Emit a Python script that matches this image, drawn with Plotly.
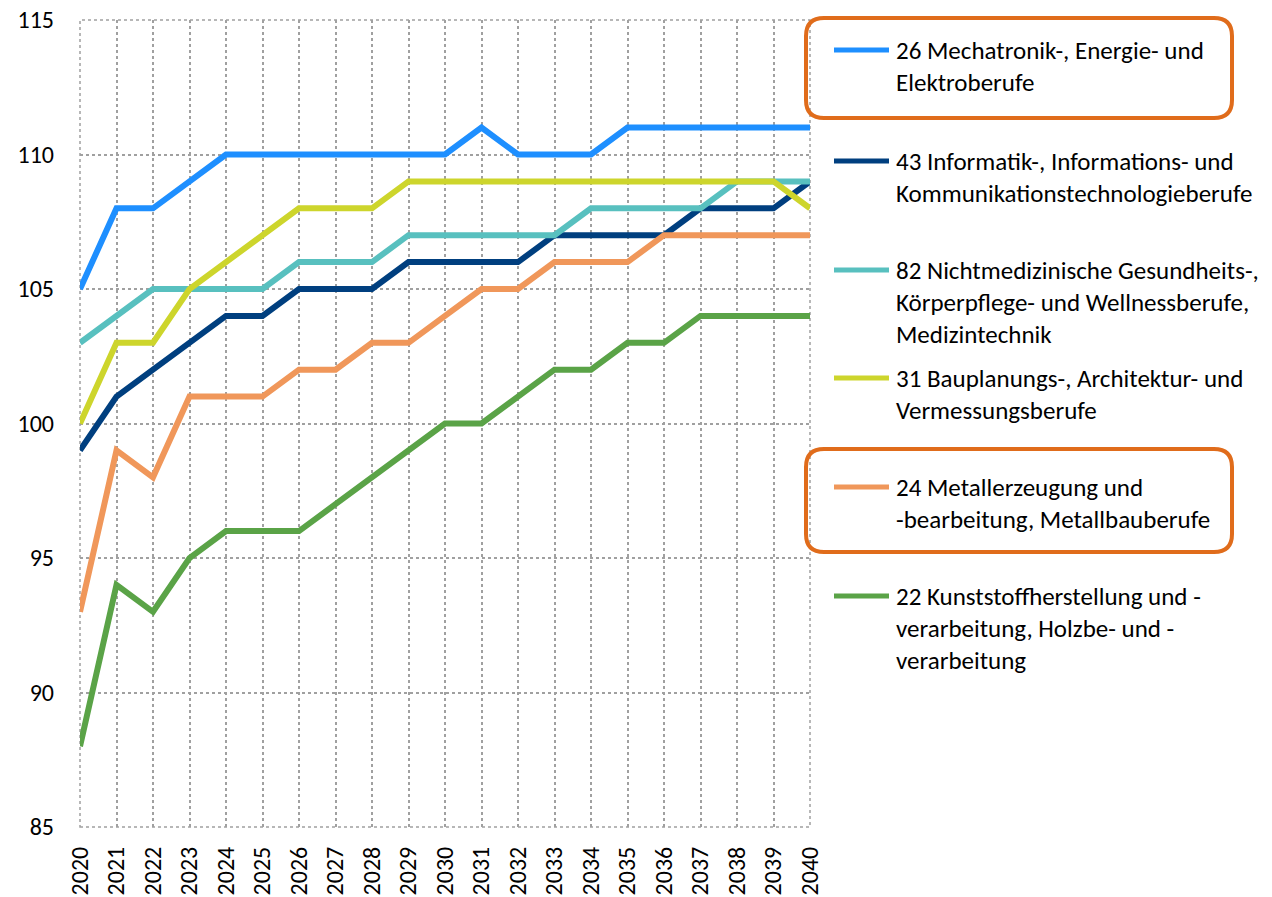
import plotly.graph_objects as go

years = list(range(2020, 2041))

names = [
    "26 Mechatronik-, Energie- und Elektroberufe",
    "43 Informatik-, Informations- und Kommunikationstechnologieberufe",
    "82 Nichtmedizinische Gesundheits-, Körperpflege- und Wellnessberufe, Medizintechnik",
    "31 Bauplanungs-, Architektur- und Vermessungsberufe",
    "24 Metallerzeugung und -bearbeitung, Metallbauberufe",
    "22 Kunststoffherstellung und -verarbeitung, Holzbe- und -verarbeitung",
]
legend_lines = [
    ["26 Mechatronik-, Energie- und", "Elektroberufe"],
    ["43 Informatik-, Informations- und", "Kommunikationstechnologieberufe"],
    ["82 Nichtmedizinische Gesundheits-,", "Körperpflege- und Wellnessberufe,", "Medizintechnik"],
    ["31 Bauplanungs-, Architektur- und", "Vermessungsberufe"],
    ["24 Metallerzeugung und", "-bearbeitung, Metallbauberufe"],
    ["22 Kunststoffherstellung und -", "verarbeitung, Holzbe- und -", "verarbeitung"],
]
highlighted = [True, False, False, False, True, False]

v26 = [105, 108, 108, 109, 110, 110, 110, 110, 110, 110, 110, 111, 110, 110, 110, 111, 111, 111, 111, 111, 111]
v43 = [99, 101, 102, 103, 104, 104, 105, 105, 105, 106, 106, 106, 106, 107, 107, 107, 107, 108, 108, 108, 109]
v82 = [103, 104, 105, 105, 105, 105, 106, 106, 106, 107, 107, 107, 107, 107, 108, 108, 108, 108, 109, 109, 109]
v31 = [100, 103, 103, 105, 106, 107, 108, 108, 108, 109, 109, 109, 109, 109, 109, 109, 109, 109, 109, 109, 108]
v24 = [93, 99, 98, 101, 101, 101, 102, 102, 103, 103, 104, 105, 105, 106, 106, 106, 107, 107, 107, 107, 107]
v22 = [88, 94, 93, 95, 96, 96, 96, 97, 98, 99, 100, 100, 101, 102, 102, 103, 103, 104, 104, 104, 104]

series = [v26, v43, v82, v31, v24, v22]
colors = ["#1E8FFF", "#003F7F", "#58C0BF", "#CDD52C", "#F0975A", "#5AA347"]

FONT = "Carlito, Lato, sans-serif"
W, H = 1272, 897
L, R, T, B = 80, 810, 20, 827


def px(x):
    return (x - L) / (R - L)


def py(y):
    return (B - y) / (B - T)


fig = go.Figure()
for name, vals, col in zip(names, series, colors):
    fig.add_trace(go.Scatter(x=years, y=vals, mode="lines", name=name,
                             line=dict(color=col, width=6), showlegend=False))

shapes = []
annotations = []
first_y = [50, 161, 270, 378, 487, 596]
step = 32
for i, lines in enumerate(legend_lines):
    y0 = first_y[i]
    shapes.append(dict(type="line", xref="paper", yref="paper",
                       x0=px(834), x1=px(889), y0=py(y0), y1=py(y0),
                       line=dict(color=colors[i], width=5)))
    for j, t in enumerate(lines):
        annotations.append(dict(text=t, xref="paper", yref="paper",
                                x=px(894), y=py(y0 + j * step),
                                xanchor="left", yanchor="middle", showarrow=False,
                                font=dict(family=FONT, size=25, color="#000000")))


def rounded(x0, y0, x1, y1, r):
    pts = (f"M {px(x0 + r)},{py(y0)} L {px(x1 - r)},{py(y0)} "
           f"Q {px(x1)},{py(y0)} {px(x1)},{py(y0 + r)} "
           f"L {px(x1)},{py(y1 - r)} Q {px(x1)},{py(y1)} {px(x1 - r)},{py(y1)} "
           f"L {px(x0 + r)},{py(y1)} Q {px(x0)},{py(y1)} {px(x0)},{py(y1 - r)} "
           f"L {px(x0)},{py(y0 + r)} Q {px(x0)},{py(y0)} {px(x0 + r)},{py(y0)} Z")
    return pts


box_ranges = {0: (18, 118), 4: (449, 552)}
for i, hl in enumerate(highlighted):
    if hl:
        ya, yb = box_ranges[i]
        shapes.append(dict(type="path", xref="paper", yref="paper",
                           path=rounded(806, ya, 1232, yb, 18),
                           line=dict(color="#E06C1B", width=4)))

# dotted frame
shapes.append(dict(type="rect", xref="paper", yref="paper", x0=0, x1=1, y0=0, y1=1,
                   line=dict(color="#A0A0A0", width=1.5, dash="dot"), layer="below"))

fig.update_layout(
    width=W, height=H,
    margin=dict(l=L, r=W - R, t=T, b=H - B, autoexpand=False),
    paper_bgcolor="white", plot_bgcolor="white",
    font=dict(family=FONT, size=24, color="#000000"),
    shapes=shapes, annotations=annotations,
    xaxis=dict(range=[2020, 2040], tickmode="array", tickvals=years,
               ticktext=[str(y) for y in years], tickangle=-90, automargin=False,
               showgrid=True, gridcolor="#A0A0A0", griddash="dot", gridwidth=1.5,
               zeroline=False, showline=False, ticks="", ticklabelstandoff=14,
               tickfont=dict(family=FONT, size=24, color="#000000")),
    yaxis=dict(range=[85, 115], tickmode="linear", tick0=85, dtick=5, automargin=False,
               showgrid=True, gridcolor="#A0A0A0", griddash="dot", gridwidth=1.5,
               zeroline=False, showline=False, ticks="", ticklabelstandoff=25,
               tickfont=dict(family=FONT, size=24, color="#000000")),
)

fig.write_html("out.html", config={"displayModeBar": False},
               post_script="document.body.style.margin='0';")
